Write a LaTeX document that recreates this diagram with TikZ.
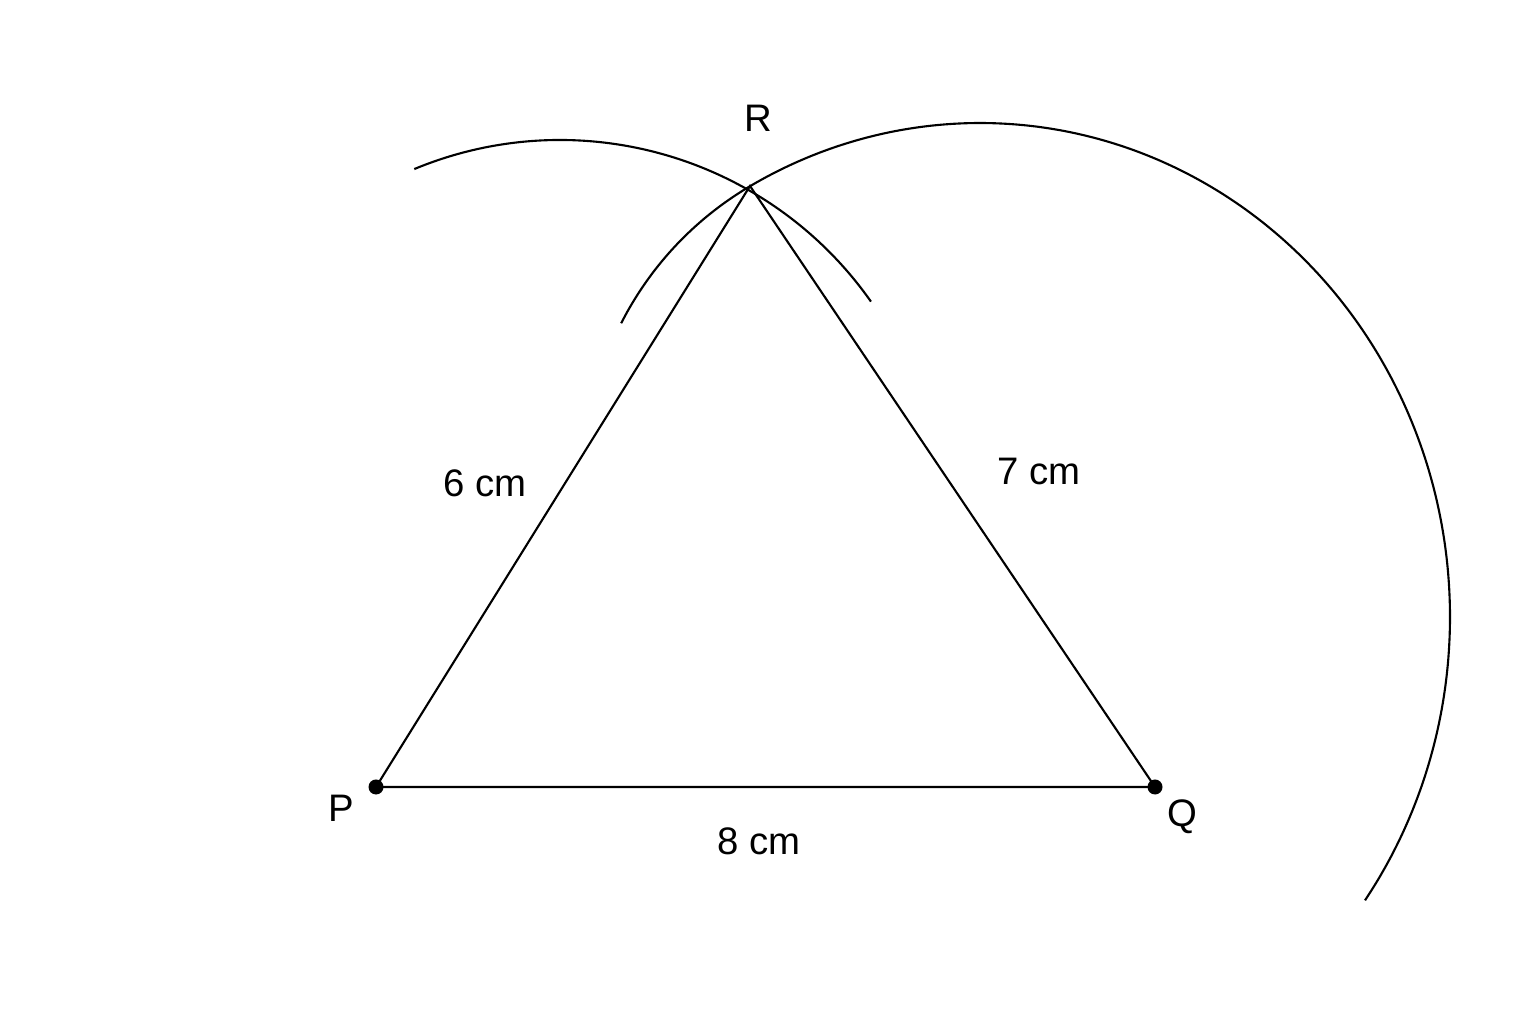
\documentclass[tikz,border=0pt]{standalone}
\usepackage{fontspec}
\setmainfont{Liberation Sans}
\begin{document}
\begin{tikzpicture}[x=0.01cm,y=0.01cm,
  line/.style={line width=0.6pt,black},
  arcline/.style={line width=0.6pt,black},
  vdot/.style={circle,fill=black,inner sep=0pt,minimum size=0.15cm},
  lbl/.style={inner sep=0pt,font=\fontsize{10.9}{13}\selectfont}]
\useasboundingbox[fill=white] (0,0) rectangle (1536,1024);
% vertices
\coordinate (P) at (376,237);
\coordinate (Q) at (1155,237);
\coordinate (R) at (750,838);
% construction arcs
\draw[arcline] (560,504) ++(112.55:380) arc[start angle=112.55,end angle=35.08,radius=380];
\draw[arcline] plot[domain=-35:142.5,samples=120,smooth]
  ({980+470*cos(\x)+14*pow(max(0,(\x-119)/23.5),2)},
   {407+494*sin(\x)-7*pow(max(0,(\x-119)/23.5),2)});
% triangle
\draw[line] (P) -- (Q) -- (R) -- cycle;
\node[vdot] (Pdot) at (P) {};
\node[vdot] (Qdot) at (Q) {};
% labels
\node[lbl] (Rl) at (758,906) {R};
\node[lbl] (Pl) at (341,216) {P};
\node[lbl] (Ql) at (1182,207) {Q};
\node[lbl] (PR) at (485,541) {6 cm};
\node[lbl] (QR) at (1039,552) {7 cm};
\node[lbl] (PQ) at (759,183) {8 cm};
\end{tikzpicture}
\end{document}
